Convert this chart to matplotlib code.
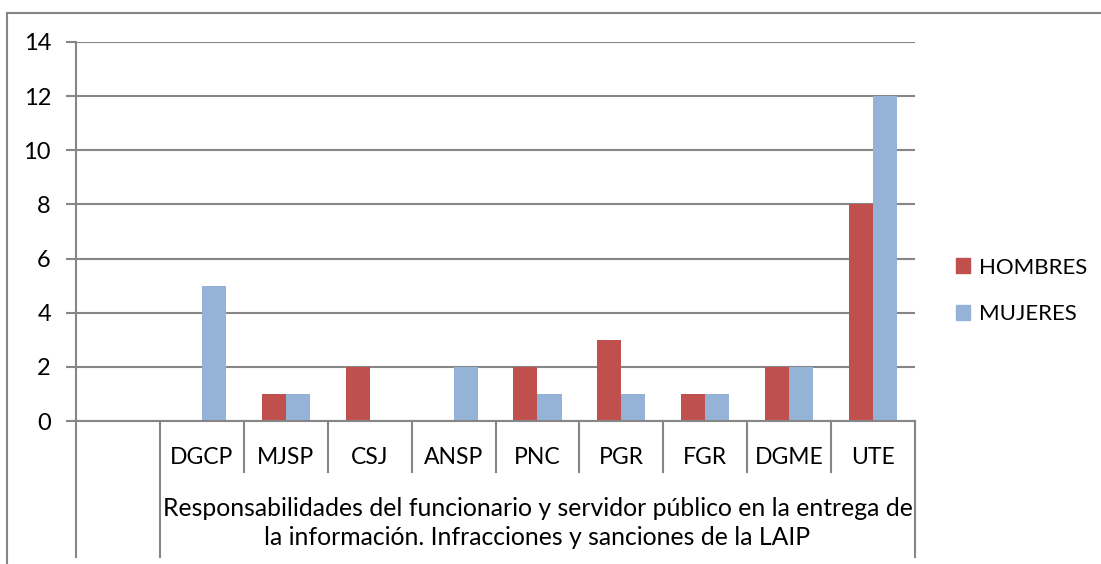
import numpy as np
import matplotlib.pyplot as plt
from matplotlib.lines import Line2D
from matplotlib.patches import Patch

categorias = ['', 'DGCP', 'MJSP', 'CSJ', 'ANSP', 'PNC', 'PGR', 'FGR', 'DGME', 'UTE']
hombres = [0, 0, 1, 2, 0, 2, 3, 1, 2, 8]
mujeres = [0, 5, 1, 0, 2, 1, 1, 1, 2, 12]
grupo = 'Responsabilidades del funcionario y servidor público en la entrega de\nla información. Infracciones y sanciones de la LAIP'

plt.rcParams['font.family'] = ['Lato', 'DejaVu Sans']
gris = '#868686'

fig = plt.figure(figsize=(11.01, 5.64), dpi=100)
ax = fig.add_axes([76/1101, 1 - 421/564, (915 - 76)/1101, (421 - 42)/564])

x = np.arange(len(categorias))
w = 0.287
ax.bar(x - w/2, hombres, w, color='#C0504D', label='HOMBRES', zorder=3)
ax.bar(x + w/2, mujeres, w, color='#95B3D7', label='MUJERES', zorder=3)

ax.set_xlim(-0.5, len(categorias) - 0.5)
ax.set_ylim(0, 14)
ax.set_yticks(range(0, 15, 2))
ax.yaxis.grid(True, color=gris, lw=1.5, zorder=0)
ax.tick_params(axis='y', length=7, width=1.5, color=gris, labelsize=17, pad=11)
ax.set_xticks([])
for s in ['top', 'right', 'bottom']:
    ax.spines[s].set_visible(False)
ax.spines['left'].set_color(gris)
ax.spines['left'].set_linewidth(1.5)

# eje de categorias en dos niveles
tr = ax.get_xaxis_transform()
h = 421 - 42
ax.plot([-0.5, 9.5], [0, 0], color=gris, lw=1.5, transform=tr, clip_on=False, zorder=4)
for b in np.arange(-0.5, 10, 1):
    y0 = -(557 - 421)/h if b in (-0.5, 0.5, 9.5) else -(472 - 421)/h
    ax.plot([b, b], [0, y0], color=gris, lw=1.5, transform=tr, clip_on=False)
for i, c in enumerate(categorias):
    ax.text(i, -(458 - 421)/h, c, transform=tr, ha='center', va='center', fontsize=16.5)
ax.text(5, -(523 - 421)/h, grupo, transform=tr, ha='center', va='center',
        multialignment='center', fontsize=17.8, linespacing=1.28)

handles = [Patch(color='#C0504D'), Patch(color='#95B3D7')]
fig.legend(handles, ['HOMBRES', 'MUJERES'], loc='center left',
           bbox_to_anchor=(936/1101, 1 - 291/564), frameon=False, fontsize=16,
           handlelength=0.65, handleheight=0.65, handletextpad=0.4, labelspacing=1.2)

# borde exterior del grafico
fig.add_artist(Line2D([7/1101, 1], [1 - 13/564, 1 - 13/564], color=gris, lw=1.5))
fig.add_artist(Line2D([7/1101, 7/1101], [0, 1 - 13/564], color=gris, lw=1.5))

plt.savefig('out.png')
